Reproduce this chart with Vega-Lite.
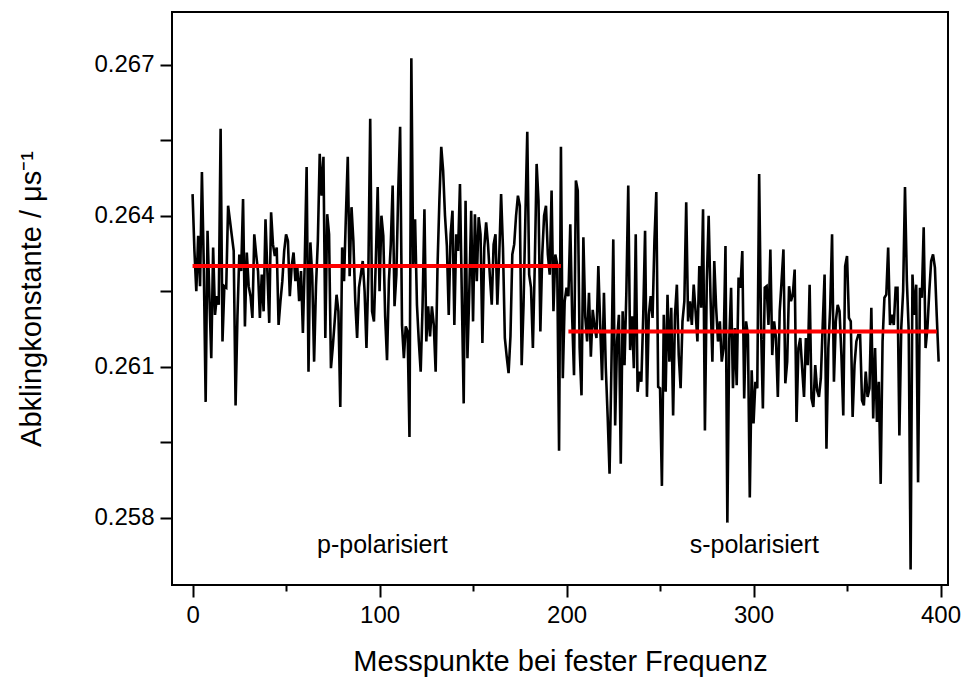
{
  "$schema": "https://vega.github.io/schema/vega-lite/v6.json",
  "width": 776,
  "height": 573,
  "autosize": "none",
  "padding": {"left": 172, "top": 12, "right": 15, "bottom": 93},
  "background": "white",
  "config": {
    "view": {"stroke": "black", "strokeWidth": 2},
    "axis": {"domain": false, "grid": false, "tickColor": "black", "tickWidth": 2, "labelColor": "black", "labelFont": "Liberation Sans", "labelFontSize": 24, "titleFont": "Liberation Sans", "titleFontSize": 29, "titleFontWeight": "normal", "titleColor": "black", "labelFlush": false, "labelOverlap": false, "labelBound": false}
  },
  "datasets": {
    "series": [
{"x":0,"y":0.26443},{"x":1,"y":0.26330},{"x":2,"y":0.26250},{"x":3,"y":0.26360},{"x":4,"y":0.26260},{"x":5,"y":0.26487},{"x":6,"y":0.26300},{"x":7,"y":0.26030},{"x":8,"y":0.26370},{"x":9,"y":0.26240},
{"x":10,"y":0.26117},{"x":11,"y":0.26337},{"x":12,"y":0.26203},{"x":13,"y":0.26240},{"x":14,"y":0.26223},{"x":15,"y":0.26573},{"x":16,"y":0.26150},{"x":17,"y":0.26260},{"x":18,"y":0.26257},{"x":19,"y":0.26420},
{"x":20,"y":0.26390},{"x":21,"y":0.26360},{"x":22,"y":0.26330},{"x":23,"y":0.26023},{"x":24,"y":0.26200},{"x":25,"y":0.26323},{"x":26,"y":0.26290},{"x":27,"y":0.26433},{"x":28,"y":0.26180},{"x":29,"y":0.26327},
{"x":30,"y":0.26260},{"x":31,"y":0.26240},{"x":32,"y":0.26197},{"x":33,"y":0.26363},{"x":34,"y":0.26323},{"x":35,"y":0.26290},{"x":36,"y":0.26197},{"x":37,"y":0.26283},{"x":38,"y":0.26210},{"x":39,"y":0.26393},
{"x":40,"y":0.26290},{"x":41,"y":0.26187},{"x":42,"y":0.26407},{"x":43,"y":0.26343},{"x":44,"y":0.26320},{"x":45,"y":0.26337},{"x":46,"y":0.26183},{"x":47,"y":0.26230},{"x":48,"y":0.26270},{"x":49,"y":0.26330},
{"x":50,"y":0.26363},{"x":51,"y":0.26350},{"x":52,"y":0.26240},{"x":53,"y":0.26300},{"x":54,"y":0.26327},{"x":55,"y":0.26270},{"x":56,"y":0.26300},{"x":57,"y":0.26230},{"x":58,"y":0.26290},{"x":59,"y":0.26167},
{"x":60,"y":0.26310},{"x":61,"y":0.26497},{"x":62,"y":0.26090},{"x":63,"y":0.26347},{"x":64,"y":0.26280},{"x":65,"y":0.26110},{"x":66,"y":0.26260},{"x":67,"y":0.26350},{"x":68,"y":0.26523},{"x":69,"y":0.26440},
{"x":70,"y":0.26517},{"x":71,"y":0.26157},{"x":72,"y":0.26403},{"x":73,"y":0.26363},{"x":74,"y":0.26097},{"x":75,"y":0.26140},{"x":76,"y":0.26190},{"x":77,"y":0.26243},{"x":78,"y":0.26210},{"x":79,"y":0.26020},
{"x":80,"y":0.26337},{"x":81,"y":0.26270},{"x":82,"y":0.26400},{"x":83,"y":0.26517},{"x":84,"y":0.26280},{"x":85,"y":0.26417},{"x":86,"y":0.26350},{"x":87,"y":0.26230},{"x":88,"y":0.26157},{"x":89,"y":0.26257},
{"x":90,"y":0.26283},{"x":91,"y":0.26310},{"x":92,"y":0.26250},{"x":93,"y":0.26137},{"x":94,"y":0.26283},{"x":95,"y":0.26593},{"x":96,"y":0.26210},{"x":97,"y":0.26190},{"x":98,"y":0.26310},{"x":99,"y":0.26457},
{"x":100,"y":0.26250},{"x":101,"y":0.26400},{"x":102,"y":0.26360},{"x":103,"y":0.26200},{"x":104,"y":0.26113},{"x":105,"y":0.26270},{"x":106,"y":0.26343},{"x":107,"y":0.26460},{"x":108,"y":0.26220},{"x":109,"y":0.26283},
{"x":110,"y":0.26450},{"x":111,"y":0.26577},{"x":112,"y":0.26183},{"x":113,"y":0.26117},{"x":114,"y":0.26180},{"x":115,"y":0.26170},{"x":116,"y":0.25960},{"x":117,"y":0.26713},{"x":118,"y":0.26300},{"x":119,"y":0.26393},
{"x":120,"y":0.26223},{"x":121,"y":0.26150},{"x":122,"y":0.26090},{"x":123,"y":0.26220},{"x":124,"y":0.26413},{"x":125,"y":0.26150},{"x":126,"y":0.26220},{"x":127,"y":0.26160},{"x":128,"y":0.26220},{"x":129,"y":0.26183},
{"x":130,"y":0.26090},{"x":131,"y":0.26300},{"x":132,"y":0.26430},{"x":133,"y":0.26537},{"x":134,"y":0.26490},{"x":135,"y":0.26400},{"x":136,"y":0.26340},{"x":137,"y":0.26203},{"x":138,"y":0.26363},{"x":139,"y":0.26410},
{"x":140,"y":0.26183},{"x":141,"y":0.26363},{"x":142,"y":0.26330},{"x":143,"y":0.26463},{"x":144,"y":0.26240},{"x":145,"y":0.26027},{"x":146,"y":0.26430},{"x":147,"y":0.26117},{"x":148,"y":0.26250},{"x":149,"y":0.26410},
{"x":150,"y":0.26190},{"x":151,"y":0.26403},{"x":152,"y":0.26270},{"x":153,"y":0.26397},{"x":154,"y":0.26363},{"x":155,"y":0.26147},{"x":156,"y":0.26337},{"x":157,"y":0.26387},{"x":158,"y":0.26343},{"x":159,"y":0.26280},
{"x":160,"y":0.26223},{"x":161,"y":0.26343},{"x":162,"y":0.26363},{"x":163,"y":0.26223},{"x":164,"y":0.26320},{"x":165,"y":0.26443},{"x":166,"y":0.26337},{"x":167,"y":0.26157},{"x":168,"y":0.26120},{"x":169,"y":0.26087},
{"x":170,"y":0.26160},{"x":171,"y":0.26323},{"x":172,"y":0.26343},{"x":173,"y":0.26400},{"x":174,"y":0.26440},{"x":175,"y":0.26420},{"x":176,"y":0.26103},{"x":177,"y":0.26223},{"x":178,"y":0.26400},{"x":179,"y":0.26567},
{"x":180,"y":0.26283},{"x":181,"y":0.26257},{"x":182,"y":0.26137},{"x":183,"y":0.26300},{"x":184,"y":0.26503},{"x":185,"y":0.26430},{"x":186,"y":0.26170},{"x":187,"y":0.26323},{"x":188,"y":0.26400},{"x":189,"y":0.26420},
{"x":190,"y":0.26323},{"x":191,"y":0.26283},{"x":192,"y":0.26450},{"x":193,"y":0.26210},{"x":194,"y":0.26323},{"x":195,"y":0.26303},{"x":196,"y":0.25933},{"x":197,"y":0.26537},{"x":198,"y":0.26077},{"x":199,"y":0.26230},
{"x":200,"y":0.26257},{"x":201,"y":0.26240},{"x":202,"y":0.26383},{"x":203,"y":0.26200},{"x":204,"y":0.26083},{"x":205,"y":0.26470},{"x":206,"y":0.26450},{"x":207,"y":0.26137},{"x":208,"y":0.26043},{"x":209,"y":0.26357},
{"x":210,"y":0.26200},{"x":211,"y":0.26150},{"x":212,"y":0.26247},{"x":213,"y":0.26120},{"x":214,"y":0.26213},{"x":215,"y":0.26180},{"x":216,"y":0.26157},{"x":217,"y":0.26300},{"x":218,"y":0.26183},{"x":219,"y":0.26073},
{"x":220,"y":0.26247},{"x":221,"y":0.26097},{"x":222,"y":0.26000},{"x":223,"y":0.25887},{"x":224,"y":0.26100},{"x":225,"y":0.26353},{"x":226,"y":0.25983},{"x":227,"y":0.26150},{"x":228,"y":0.26203},{"x":229,"y":0.25907},
{"x":230,"y":0.26210},{"x":231,"y":0.26103},{"x":232,"y":0.26250},{"x":233,"y":0.26460},{"x":234,"y":0.26133},{"x":235,"y":0.26200},{"x":236,"y":0.26097},{"x":237,"y":0.26363},{"x":238,"y":0.26050},{"x":239,"y":0.26090},
{"x":240,"y":0.26070},{"x":241,"y":0.26200},{"x":242,"y":0.26370},{"x":243,"y":0.26040},{"x":244,"y":0.26203},{"x":245,"y":0.26240},{"x":246,"y":0.26197},{"x":247,"y":0.26350},{"x":248,"y":0.26447},{"x":249,"y":0.26060},
{"x":250,"y":0.26057},{"x":251,"y":0.25863},{"x":252,"y":0.26203},{"x":253,"y":0.26050},{"x":254,"y":0.26243},{"x":255,"y":0.26110},{"x":256,"y":0.26217},{"x":257,"y":0.26003},{"x":258,"y":0.26203},{"x":259,"y":0.26263},
{"x":260,"y":0.26123},{"x":261,"y":0.26057},{"x":262,"y":0.26190},{"x":263,"y":0.26230},{"x":264,"y":0.26427},{"x":265,"y":0.26190},{"x":266,"y":0.26230},{"x":267,"y":0.26183},{"x":268,"y":0.26263},{"x":269,"y":0.26210},
{"x":270,"y":0.26150},{"x":271,"y":0.26300},{"x":272,"y":0.26217},{"x":273,"y":0.26413},{"x":274,"y":0.25973},{"x":275,"y":0.26270},{"x":276,"y":0.26400},{"x":277,"y":0.26237},{"x":278,"y":0.26110},{"x":279,"y":0.26310},
{"x":280,"y":0.26217},{"x":281,"y":0.26150},{"x":282,"y":0.26190},{"x":283,"y":0.26110},{"x":284,"y":0.26137},{"x":285,"y":0.26340},{"x":286,"y":0.25790},{"x":287,"y":0.26150},{"x":288,"y":0.26257},{"x":289,"y":0.26057},
{"x":290,"y":0.26177},{"x":291,"y":0.26063},{"x":292,"y":0.26277},{"x":293,"y":0.26257},{"x":294,"y":0.26330},{"x":295,"y":0.26037},{"x":296,"y":0.26190},{"x":297,"y":0.26163},{"x":298,"y":0.25840},{"x":299,"y":0.26093},
{"x":300,"y":0.25987},{"x":301,"y":0.26070},{"x":302,"y":0.26057},{"x":303,"y":0.26483},{"x":304,"y":0.26183},{"x":305,"y":0.26017},{"x":306,"y":0.26257},{"x":307,"y":0.26260},{"x":308,"y":0.26183},{"x":309,"y":0.26333},
{"x":310,"y":0.26123},{"x":311,"y":0.26190},{"x":312,"y":0.26157},{"x":313,"y":0.26040},{"x":314,"y":0.26210},{"x":315,"y":0.26270},{"x":316,"y":0.26333},{"x":317,"y":0.26067},{"x":318,"y":0.26110},{"x":319,"y":0.26260},
{"x":320,"y":0.26230},{"x":321,"y":0.26243},{"x":322,"y":0.26293},{"x":323,"y":0.25990},{"x":324,"y":0.26137},{"x":325,"y":0.26157},{"x":326,"y":0.26097},{"x":327,"y":0.26040},{"x":328,"y":0.26157},{"x":329,"y":0.26103},
{"x":330,"y":0.26263},{"x":331,"y":0.26037},{"x":332,"y":0.26020},{"x":333,"y":0.26103},{"x":334,"y":0.26053},{"x":335,"y":0.26040},{"x":336,"y":0.26077},{"x":337,"y":0.26183},{"x":338,"y":0.26283},{"x":339,"y":0.25937},
{"x":340,"y":0.26137},{"x":341,"y":0.26217},{"x":342,"y":0.26363},{"x":343,"y":0.26070},{"x":344,"y":0.26190},{"x":345,"y":0.26223},{"x":346,"y":0.26210},{"x":347,"y":0.26123},{"x":348,"y":0.26003},{"x":349,"y":0.26300},
{"x":350,"y":0.26320},{"x":351,"y":0.26197},{"x":352,"y":0.26190},{"x":353,"y":0.26000},{"x":354,"y":0.26103},{"x":355,"y":0.26150},{"x":356,"y":0.26163},{"x":357,"y":0.26163},{"x":358,"y":0.26033},{"x":359,"y":0.26023},
{"x":360,"y":0.26090},{"x":361,"y":0.26040},{"x":362,"y":0.26057},{"x":363,"y":0.26217},{"x":364,"y":0.25997},{"x":365,"y":0.26137},{"x":366,"y":0.25990},{"x":367,"y":0.26070},{"x":368,"y":0.25867},{"x":369,"y":0.26150},
{"x":370,"y":0.26237},{"x":371,"y":0.26243},{"x":372,"y":0.26337},{"x":373,"y":0.26183},{"x":374,"y":0.26203},{"x":375,"y":0.26183},{"x":376,"y":0.26257},{"x":377,"y":0.26257},{"x":378,"y":0.25963},{"x":379,"y":0.26177},
{"x":380,"y":0.26250},{"x":381,"y":0.26457},{"x":382,"y":0.26270},{"x":383,"y":0.26170},{"x":384,"y":0.25697},{"x":385,"y":0.26283},{"x":386,"y":0.26203},{"x":387,"y":0.26263},{"x":388,"y":0.25870},{"x":389,"y":0.26257},
{"x":390,"y":0.26237},{"x":391,"y":0.26377},{"x":392,"y":0.26137},{"x":393,"y":0.26177},{"x":394,"y":0.26250},{"x":395,"y":0.26310},{"x":396,"y":0.26323},{"x":397,"y":0.26297},{"x":398,"y":0.26200},{"x":399,"y":0.26110}
    ],
    "means": [
      {"pol": "p", "x": 0, "y": 0.263},
      {"pol": "p", "x": 197, "y": 0.263},
      {"pol": "s", "x": 201, "y": 0.2617},
      {"pol": "s", "x": 398, "y": 0.2617}
    ],
    "labels": [
      {"x": 101.5, "y": 0.25730, "label": "p-polarisiert"},
      {"x": 300.4, "y": 0.25730, "label": "s-polarisiert"}
    ]
  },
  "layer": [
    {
      "data": {"name": "series"},
      "mark": {"type": "line", "color": "black", "strokeWidth": 2.6},
      "encoding": {
        "x": {"field": "x", "type": "quantitative",
          "scale": {"domain": [-11, 404], "nice": false, "zero": false},
          "axis": {"orient": "bottom", "values": [0, 100, 200, 300, 400], "format": "d", "tickSize": 12, "labelPadding": 6, "title": "Messpunkte bei fester Frequenz", "titlePadding": 20}},
        "y": {"field": "y", "type": "quantitative",
          "scale": {"domain": [0.25666, 0.26805], "nice": false, "zero": false},
          "axis": {"orient": "left", "values": [0.258, 0.2595, 0.261, 0.2625, 0.264, 0.2655, 0.267], "tickSize": 12, "labelPadding": 6,
            "labelExpr": "round(datum.value*2000) % 6 == 0 ? format(datum.value, '.3f') : ''",
            "title": "Abklingkonstante / μs⁻¹", "titlePadding": 47}}
      }
    },
    {
      "data": {"name": "means"},
      "mark": {"type": "line", "color": "#ff0000", "strokeWidth": 4},
      "encoding": {
        "x": {"field": "x", "type": "quantitative",
          "axis": {"orient": "bottom", "values": [50, 150, 250, 350], "tickSize": 6, "labels": false, "title": null}},
        "y": {"field": "y", "type": "quantitative"},
        "detail": {"field": "pol"}
      }
    },
    {
      "data": {"name": "labels"},
      "mark": {"type": "text", "font": "Liberation Sans", "fontSize": 25, "color": "black", "baseline": "alphabetic", "align": "center"},
      "encoding": {
        "x": {"field": "x", "type": "quantitative", "axis": null},
        "y": {"field": "y", "type": "quantitative"},
        "text": {"field": "label"}
      }
    }
  ],
  "resolve": {"axis": {"x": "independent"}}
}
